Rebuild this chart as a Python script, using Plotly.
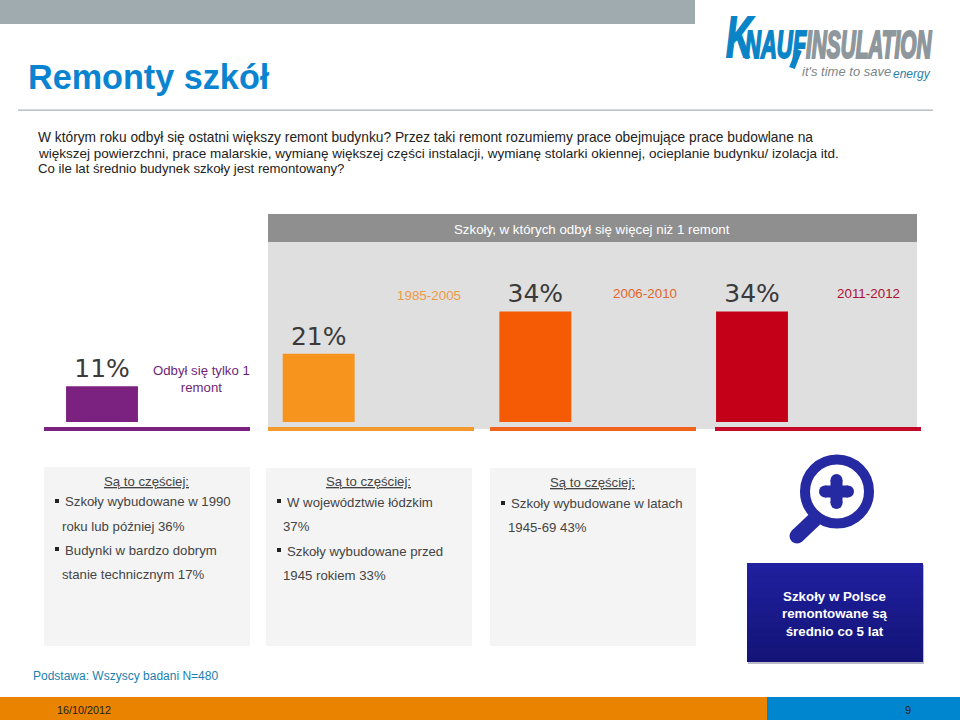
import plotly.graph_objects as go

categories = ["Odbył się tylko 1 remont", "1985-2005", "2006-2010", "2011-2012"]
values = [11, 21, 34, 34]
value_labels = ["11%", "21%", "34%", "34%"]
bar_colors = ["#7B2180", "#F7941E", "#F55A05", "#C40018"]
label_colors = ["#6F1F78", "#EE9A45", "#E4662A", "#B01030"]

W, H = 960, 720
def px(x): return x / W
def py(y): return 1 - y / H

fig = go.Figure(go.Bar(
    x=categories, y=values, width=0.332,
    marker=dict(color=bar_colors, line=dict(width=0)),
    text=value_labels, textposition="outside", cliponaxis=False,
    textfont=dict(family="DejaVu Sans", size=25, color="#3A3A3A"),
    hoverinfo="skip",
))

shapes = []
def rect(x0, y0, x1, y1, color):
    shapes.append(dict(type="rect", xref="paper", yref="paper", layer="below",
                       x0=px(x0), x1=px(x1), y0=py(y1), y1=py(y0),
                       fillcolor=color, line=dict(width=0)))

rect(0, 0, 695, 24, "#A0ABB0")
rect(18, 109.5, 933, 110.8, "#ACB2B6")
rect(268, 214, 917, 242, "#8F8F8F")
rect(268, 242, 917, 429, "#DFDFDF")
rect(44, 427, 250, 431, "#7B2180")
rect(268, 427, 474, 431, "#F39A2E")
rect(490, 427, 696, 431, "#F0641E")
rect(715, 427, 921, 431, "#C40A28")
rect(44, 467, 250, 646, "#F4F4F4")
rect(266, 468, 472, 646, "#F4F4F4")
rect(490, 468, 696, 646, "#F4F4F4")
rect(0, 697, 767, 720, "#E98300")
rect(767, 697, 960, 720, "#0085CF")
rect(748, 565, 924, 664, "#B9BBCB")
n = 20
for i in range(n):
    f = i / (n - 1)
    # each band runs down to the box bottom, so later bands paint over it without seams
    rect(747, 563 + 99 * i / n, 923, 662,
         f"rgb({int(32 - 12 * f)},{int(32 - 12 * f)},{int(160 - 40 * f)})")
for bx, by in [(57, 501), (57, 549), (279, 501), (279, 550), (503, 503)]:
    rect(bx - 2, by - 2, bx + 2, by + 2, "#222222")

def mag(kind, x0, y0, x1, y1, color, lw=0, fill=None):
    d = dict(type=kind, xref="paper", yref="paper", x0=px(x0), x1=px(x1), y0=py(y0), y1=py(y1),
             line=dict(color=color, width=lw))
    if fill: d["fillcolor"] = fill
    shapes.append(d)
MAG = "#2529A2"
mag("line", 797, 536, 815, 519, MAG, 15)
mag("circle", 789.5, 528.5, 804.5, 543.5, MAG, 0, MAG)
mag("circle", 805, 459.5, 869, 523.5, MAG, 10, "#FFFFFF")
mag("line", 825, 491.5, 848, 491.5, MAG, 12)
mag("line", 836.5, 480, 836.5, 503, MAG, 12)
for cx, cy in [(825, 491.5), (848, 491.5), (836.5, 480), (836.5, 503)]:
    mag("circle", cx - 6, cy - 6, cx + 6, cy + 6, MAG, 0, MAG)
mag("line", 799, 50, 792, 68, "#0A84C6", 6)

ann = []
def text(x, y, s, size=13, color="#333333", anchor="left", family="Liberation Sans"):
    ann.append(dict(xref="paper", yref="paper", x=px(x), y=py(y), text=s, showarrow=False,
                    xanchor=anchor, yanchor="middle", align=anchor if anchor != "middle" else "center",
                    borderpad=0, borderwidth=0,
                    font=dict(family=family, size=size, color=color)))

text(28, 77, "<b>Remonty szkół</b>", 34.2, "#0A84D0")
text(38, 137, "W którym roku odbył się ostatni większy remont budynku? Przez taki remont rozumiemy prace obejmujące prace budowlane na", 13.75, "#222222")
text(38, 153, "większej powierzchni, prace malarskie, wymianę większej części instalacji, wymianę stolarki okiennej, ocieplanie budynku/ izolacja itd.", 13.5, "#222222")
text(38, 168, "Co ile lat średnio budynek szkoły jest remontowany?", 13.2, "#222222")
text(592, 229, "Szkoły, w których odbył się więcej niż 1 remont", 13.3, "#FFFFFF", "center")
text(201, 379, "Odbył się tylko 1<br>remont", 13.2, label_colors[0], "center")
text(429, 295, categories[1], 13.4, label_colors[1], "center")
text(645, 293, categories[2], 13.4, label_colors[2], "center")
text(868, 293, categories[3], 13.4, label_colors[3], "center")

for x, y in [(146, 482), (368, 482), (592, 483)]:
    text(x, y, "<u>Są to częściej:</u>", 13.2, "#444444", "center")
for x, y, s in [
    (65, 501, "Szkoły wybudowane w 1990"), (62, 526, "roku lub później 36%"),
    (65, 550, "Budynki w bardzo dobrym"), (62, 574, "stanie technicznym 17%"),
    (287, 502, "W województwie łódzkim"), (283, 526, "37%"),
    (287, 551, "Szkoły wybudowane przed"), (283, 575, "1945 rokiem 33%"),
    (511, 503, "Szkoły wybudowane w latach"), (508, 527, "1945-69 43%"),
]:
    text(x, y, s, 13.2, "#444444")
text(835, 614, "<b>Szkoły w Polsce<br>remontowane są<br>średnio co 5 lat</b>", 13.3, "#FFFFFF", "center")
text(33, 676, "Podstawa: Wszyscy badani N=480", 12, "#1A7FB0")
text(57, 710, "16/10/2012", 10.8, "#222222")
text(908, 710, "9", 11, "#222222", "center")
text(726, 37, "<b><i>K</i></b>", 36, "#0A84C6")
text(745, 44, "<b><i>NAUF</i></b>", 22, "#0A84C6")
text(806, 44, "<b><i>INSULATION</i></b>", 20.8, "#8E979C")
text(802, 72, "<i>it's time to save</i>", 13, "#7C858A")
text(893, 74, "<i>energy</i>", 12, "#2A7FA8")

fig.update_layout(
    width=W, height=H, margin=dict(l=0, r=0, t=0, b=0), paper_bgcolor="#FFFFFF", plot_bgcolor="rgba(0,0,0,0)",
    showlegend=False, shapes=shapes, annotations=ann,
    xaxis=dict(type="category", categoryorder="array", categoryarray=categories,
               range=[-0.4708, 3.96], visible=False, domain=[0, 1]),
    yaxis=dict(range=[0, 129.8], visible=False, domain=[(720 - 422) / 720, 1]),
)
post = """
document.body.style.margin='0';
var stretch={'K':1.6,'NAUF':1.77,'INSULATION':1.87};
var ink={'K':'#0A84C6','NAUF':'#0A84C6','INSULATION':'#8E979C'};
document.querySelectorAll('g.annotation').forEach(function(g){
  var t=g.textContent.trim();
  if(stretch[t]){g.style.transformBox='fill-box';g.style.transformOrigin='center';
    g.style.transform='scaleY('+stretch[t]+')';
    var e=g.querySelector('text');e.style.stroke=ink[t];e.style.strokeWidth='1.2px';}
});
"""
fig.write_html("out.html", post_script=post, config={"displayModeBar": False})
